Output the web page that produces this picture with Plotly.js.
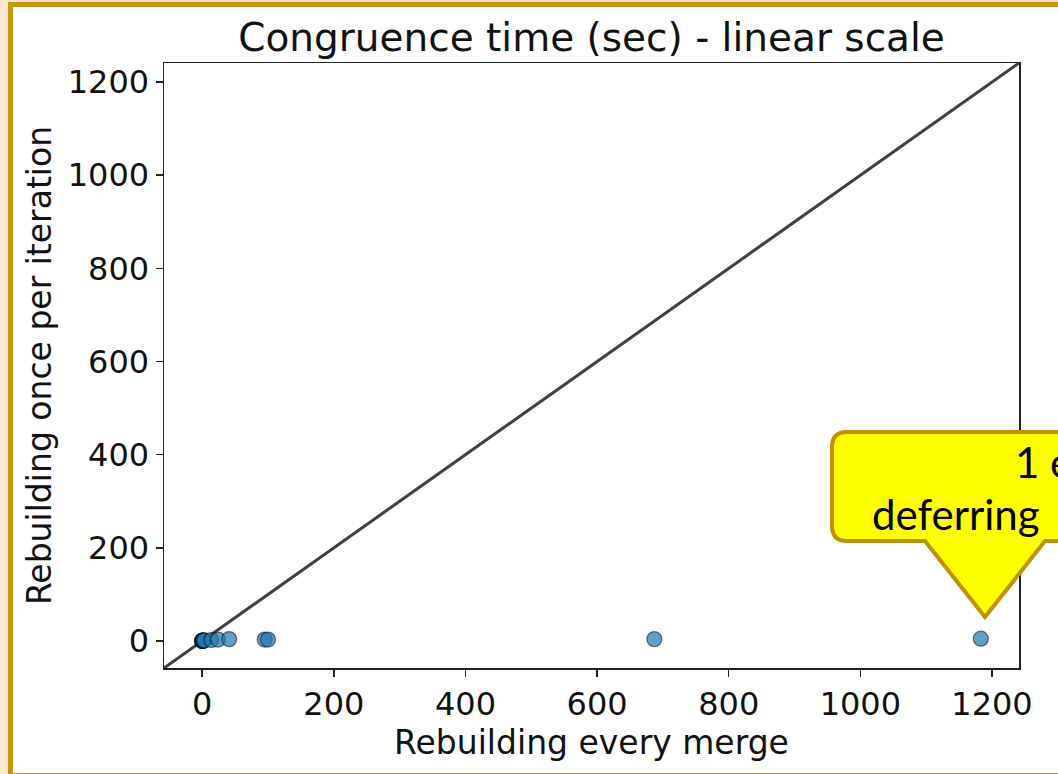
<!DOCTYPE html>
<html>
<head>
<meta charset="utf-8">
<script src="https://cdn.plot.ly/plotly-3.0.1.min.js"></script>
<style>
  html, body { margin:0; padding:0; width:1058px; height:774px; overflow:hidden; background:#fde6cf; }
  #frame { position:absolute; left:8px; top:2px; width:1100px; height:766px; background:#ffffff;
           border-left:5px solid #c8960a; border-top:5px solid #c8960a; border-bottom:3px solid #c8960a; }
  #plot { position:absolute; left:0; top:0; width:1058px; height:774px; }
</style>
</head>
<body>
<div id="frame"></div>
<div id="plot"></div>
<script>
// Data
const mergeTimes     = [0, 0, 0, 0.5, 1, 2, 3, 14, 24, 41, 95, 100, 687, 1183];
const iterationTimes = [0.1, 0.2, 0.3, 0.5, 0.5, 1, 1, 2, 3, 4, 3, 3, 4, 5];
const diagLine = [-58, 1241];
const tickVals = [0, 200, 400, 600, 800, 1000, 1200];
const titleText = "Congruence time (sec) - linear scale";
const xLabel = "Rebuilding every merge";
const yLabel = "Rebuilding once per iteration";
const calloutLines = ["1 e", "deferring"];

const W = 1058, H = 774;
const L = 164, R = 1019, T = 63, B = 668;
const px = x => (x - L) / (R - L);
const py = y => (B - y) / (B - T);

function P(x, y) { return px(x).toFixed(4) + ',' + py(y).toFixed(4); }
const calloutPath = 'M ' + P(1090, 432) + ' L ' + P(847, 432) + ' Q ' + P(832, 432) + ' ' + P(832, 447) +
  ' L ' + P(832, 526) + ' Q ' + P(832, 541) + ' ' + P(847, 541) +
  ' L ' + P(925, 541) + ' L ' + P(985, 617) + ' L ' + P(1045, 541) + ' L ' + P(1090, 541) + ' Z';

const font = "DejaVu Sans";

const traces = [
  { x: diagLine, y: diagLine, mode: 'lines', line: { color: 'rgba(30,30,30,0.85)', width: 3 }, hoverinfo: 'skip', showlegend: false },
  { x: mergeTimes, y: iterationTimes, mode: 'markers', showlegend: false,
    marker: { size: 15, color: 'rgba(31,119,180,0.7)', line: { color: 'rgba(0,0,0,0.5)', width: 1.3 } } }
];

const axisCommon = {
  range: diagLine, tickvals: tickVals, ticks: 'outside', ticklen: 7, tickwidth: 1.5, tickcolor: '#222',
  showgrid: false, zeroline: false, showline: true, linecolor: '#222', linewidth: 1.5, mirror: true,
  tickfont: { family: font, size: 32, color: '#111' }, automargin: false
};

const layout = {
  width: W, height: H,
  margin: { l: L, r: W - R, t: T, b: H - B, pad: 0 },
  paper_bgcolor: 'rgba(0,0,0,0)', plot_bgcolor: '#ffffff',
  title: { text: titleText, font: { family: font, size: 39, color: '#111' }, x: 0.5 + ( (L+R)/2 - W/2 )/W, xanchor: 'center', y: 1 - 37/H, yanchor: 'middle' },
  xaxis: Object.assign({}, axisCommon, { title: { text: xLabel, font: { family: font, size: 33, color: '#111' }, standoff: 8 } }),
  yaxis: Object.assign({}, axisCommon, { title: { text: yLabel, font: { family: font, size: 33, color: '#111' }, standoff: 6 } }),
  shapes: [
    { type: 'path', xref: 'paper', yref: 'paper', path: calloutPath, fillcolor: '#ffff00',
      line: { color: '#c0900a', width: 4 }, layer: 'above' }
  ],
  annotations: [
    { xref: 'paper', yref: 'paper', x: px(1013), y: py(462), xanchor: 'left', yanchor: 'middle', showarrow: false,
      text: calloutLines[0], font: { family: 'Lato', size: 42, color: '#000' } },
    { xref: 'paper', yref: 'paper', x: px(870), y: py(514), xanchor: 'left', yanchor: 'middle', showarrow: false,
      text: calloutLines[1], font: { family: 'Lato', size: 42, color: '#000' } }
  ]
};

Plotly.newPlot('plot', traces, layout, { displayModeBar: false, staticPlot: true });
</script>
</body>
</html>
